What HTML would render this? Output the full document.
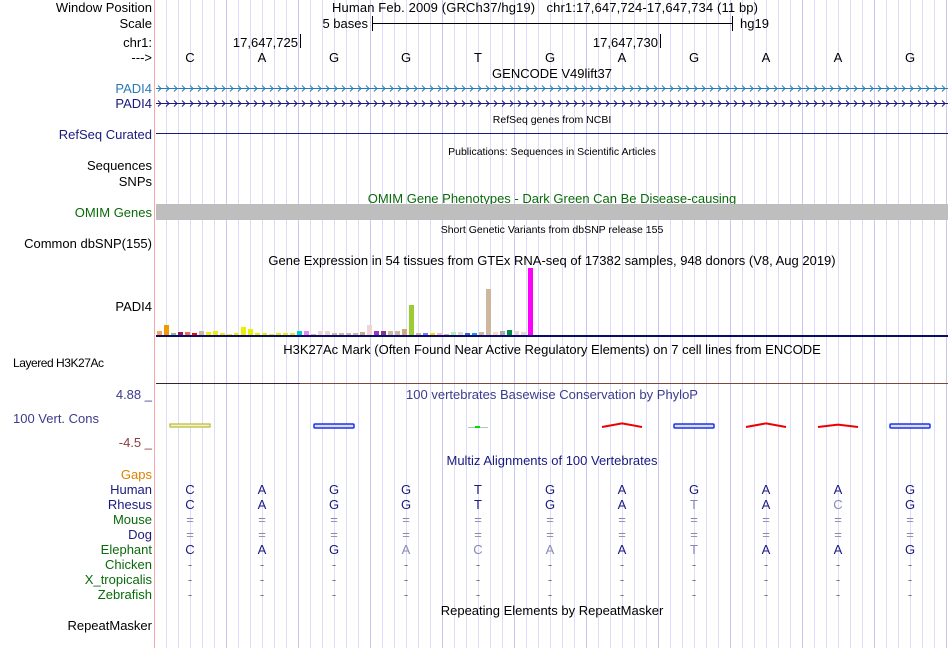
<!DOCTYPE html>
<html><head><meta charset="utf-8"><style>
html,body{margin:0;padding:0;background:#fff;width:950px;height:648px;overflow:hidden}
svg{display:block;font-family:"Liberation Sans",Arial,sans-serif}
</style></head><body>
<svg id="c" width="950" height="648">
<g id="grid"></g>
<line x1="154.5" y1="0" x2="154.5" y2="648" stroke="#f4a8a8"/>
<g font-size="13" text-anchor="end" fill="#000">
<text x="152" y="12">Window Position</text>
<text x="152" y="28">Scale</text>
<text x="152" y="47">chr1:</text>
<text x="152" y="62">---&gt;</text>
<text x="152" y="93" fill="#2a7ab8">PADI4</text>
<text x="152" y="108" fill="#1a1a80">PADI4</text>
<text x="152" y="139" fill="#1a1a80">RefSeq Curated</text>
<text x="152" y="170">Sequences</text>
<text x="152" y="186">SNPs</text>
<text x="152" y="217" fill="#0a6a0a">OMIM Genes</text>
<text x="152" y="248">Common dbSNP(155)</text>
<text x="152" y="311">PADI4</text>
<text x="13" y="367" text-anchor="start" font-size="12" textLength="91" lengthAdjust="spacing">Layered H3K27Ac</text>
<text x="152" y="399" fill="#3c3c8c">4.88 _</text>
<text x="99" y="423" fill="#3c3c8c">100 Vert. Cons</text>
<text x="152" y="447" fill="#8c3c3c">-4.5 _</text>
<text x="152" y="479" fill="#e08000">Gaps</text>
<text x="152" y="494" fill="#1a1a80">Human</text>
<text x="152" y="509" fill="#1a1a80">Rhesus</text>
<text x="152" y="524" fill="#0a6a0a">Mouse</text>
<text x="152" y="539" fill="#1a1a80">Dog</text>
<text x="152" y="554" fill="#0a6a0a">Elephant</text>
<text x="152" y="569" fill="#0a6a0a">Chicken</text>
<text x="152" y="584" fill="#0a6a0a">X_tropicalis</text>
<text x="152" y="599" fill="#0a6a0a">Zebrafish</text>
<text x="152" y="630">RepeatMasker</text>
</g>
<g font-size="13" text-anchor="middle">
<text x="545" y="12" textLength="426" lengthAdjust="spacing">Human Feb. 2009 (GRCh37/hg19)&#160;&#160; chr1:17,647,724-17,647,734 (11 bp)</text>
<text x="552" y="78">GENCODE V49lift37</text>
<text x="552" y="123" font-size="10.5">RefSeq genes from NCBI</text>
<text x="552" y="155" font-size="10.5">Publications: Sequences in Scientific Articles</text>
<text x="552" y="203" fill="#0a6a0a">OMIM Gene Phenotypes - Dark Green Can Be Disease-causing</text>
<text x="552" y="233" font-size="10.5">Short Genetic Variants from dbSNP release 155</text>
<text x="552" y="265">Gene Expression in 54 tissues from GTEx RNA-seq of 17382 samples, 948 donors (V8, Aug 2019)</text>
<text x="552" y="354">H3K27Ac Mark (Often Found Near Active Regulatory Elements) on 7 cell lines from ENCODE</text>
<text x="552" y="399" fill="#3c3c8c">100 vertebrates Basewise Conservation by PhyloP</text>
<text x="552" y="465" fill="#1a1a80">Multiz Alignments of 100 Vertebrates</text>
<text x="552" y="615">Repeating Elements by RepeatMasker</text>
</g>
<g>
<text x="368" y="28" font-size="13" text-anchor="end">5 bases</text>
<line x1="372.5" y1="16" x2="372.5" y2="31" stroke="#000"/>
<line x1="372" y1="23.5" x2="733" y2="23.5" stroke="#000"/>
<line x1="732.5" y1="16" x2="732.5" y2="31" stroke="#000"/>
<text x="740" y="28" font-size="13">hg19</text>
</g>
<g>
<text x="298" y="47" font-size="13" text-anchor="end">17,647,725</text>
<line x1="300.5" y1="34" x2="300.5" y2="48" stroke="#000"/>
<text x="658" y="47" font-size="13" text-anchor="end">17,647,730</text>
<line x1="660.5" y1="34" x2="660.5" y2="48" stroke="#000"/>
</g>
<g id="genes"></g>
<line x1="156" y1="133.5" x2="948" y2="133.5" stroke="#1a1a80"/>
<rect x="156" y="204" width="792" height="16" fill="#bebebe"/>
<g id="gtex"></g>
<line x1="156" y1="383.5" x2="300" y2="383.5" stroke="#3a2030"/>
<line x1="300" y1="383.5" x2="948" y2="383.5" stroke="#7a4a3a"/>
<g id="cons"></g>
<g id="align" font-size="13" text-anchor="middle"></g>
</svg>
<script>
const NS="http://www.w3.org/2000/svg";
const baseX=i=>190+72*i;
const ref=["C","A","G","G","T","G","A","G","A","A","G"];
const rhesus=["C","A","G","G","T","G","A","T","A","C","G"];
const rhesusDiff=[0,0,0,0,0,0,0,1,0,1,0];
const elephant=["C","A","G","A","C","A","A","T","A","A","G"];
const elephantDiff=[0,0,0,1,1,1,0,1,0,0,0];
const gtexValues=[4,10,2,3,3,2,4,3,4,2,1,2,8,6,2,2,1,2,2,2,4,4,1,4,4,2,2,2,2,3,10,4,4,4,4,6,30,2,2,2,2,1,3,3,2,2,3,46,3,4,5,4,3,67];
const gtexColors=["#f4a460","#ee9a00","#8fbc8f","#8b1c62","#ee6a50","#ff0000","#cdb79e","#eeee00","#eeee00","#eeee00","#eeee00","#eeee00","#eeee00","#eeee00","#eeee00","#eeee00","#eeee00","#eeee00","#eeee00","#eeee00","#00cdcd","#ee82ee","#cdb79e","#eed5d2","#eed5d2","#cdb79e","#cdb79e","#cdb79e","#cdb79e","#cdaa7d","#eed5d2","#9a32cd","#7a378b","#cdb79e","#cdb79e","#cdaa7d","#9acd32","#cdb79e","#7777ff","#ffd700","#ffb6c1","#cdb79e","#b4eeb4","#d9d9d9","#3a5fcd","#1e90ff","#cdb79e","#cdb79e","#ffdab9","#aaaaaa","#008b45","#eed5d2","#eed5d2","#ff00ff"];
const consValues=[-0.5,null,1.2,null,0,null,3,1.0,3,2,1.2];
function mk(tag,attrs,parent){const e=document.createElementNS(NS,tag);for(const k in attrs)e.setAttribute(k,attrs[k]);parent.appendChild(e);return e;}
const grid=document.getElementById('grid');
for(let x=166;x<948;x+=12){const l=mk('line',{x1:x+.5,y1:0,x2:x+.5,y2:648,stroke:(x-154)%72===0?'#c8c8f0':'#dcdcf6'},grid);

}
const svg=document.getElementById('c');
ref.forEach((b,i)=>{const t=mk('text',{x:baseX(i),y:62,'font-size':13,'text-anchor':'middle'},svg);t.textContent=b;

});
const genes=document.getElementById('genes');
[[88,'#2a7ab8'],[103,'#1a1a80']].forEach(([y,c])=>{
const l=mk('line',{x1:156,y1:y+.5,x2:948,y2:y+.5,stroke:c},genes);


let d='';for(let x=158;x<946;x+=8)d+=`M${x},${y-2.5}L${x+3},${y+.5}L${x},${y+3.5}`;
const p=mk('path',{d:d,stroke:c,fill:'none','stroke-width':1},genes);

});
const g=document.getElementById('gtex');
const gmax=67,base=335,h=67;
const bx=i=>157+i*7.0, by=v=>base-v/gmax*h;
gtexValues.forEach((v,i)=>{const r=mk('rect',{x:bx(i),y:by(v),width:5,height:base-by(v),fill:gtexColors[i]},g);

});
const bl=mk('rect',{x:156,y:335,width:792,height:2,fill:'#0a0a6a'},g);


const cons=document.getElementById('cons');
const cy=v=>427-v*1.2;
consValues.forEach((v,i)=>{if(v===null)return;const x=baseX(i);let e;
if(v===0){e=mk('line',{x1:x-10,y1:427.5,x2:x+10,y2:427.5,stroke:'#aaccaa','stroke-width':1},cons);
const gg=mk('rect',{x:x-3,y:426,width:5,height:2,fill:'#00dd00'},cons);

}
else if(v>=2){e=mk('path',{d:`M${x-20},${427}L${x},${cy(v)}L${x+20},${427}`,stroke:'#ee0000','stroke-width':2,fill:'none'},cons);}
else if(v<0){e=mk('rect',{x:x-20,y:424,width:40,height:3,fill:'#f4f4d0',stroke:'#b8b830','stroke-width':1.2},cons);}
else{e=mk('rect',{x:x-20,y:424,width:40,height:4,rx:1,fill:'#dde',stroke:'#1a33ee','stroke-width':1.5},cons);}

});
const al=document.getElementById('align');
function row(arr,y,fill,diff){arr.forEach((b,i)=>{const t=mk('text',{x:baseX(i),y:y,fill:diff&&diff[i]?'#8888bb':fill},al);t.textContent=b;

});}
row(ref,494,'#1a1a80');
row(rhesus,509,'#1a1a80',rhesusDiff);
row(ref.map(()=>'='),524,'#8888aa');
row(ref.map(()=>'='),539,'#8888aa');
row(elephant,554,'#1a1a80',elephantDiff);
row(ref.map(()=>'-'),569,'#777');
row(ref.map(()=>'-'),584,'#777');
row(ref.map(()=>'-'),599,'#777');
</script>
</body></html>
